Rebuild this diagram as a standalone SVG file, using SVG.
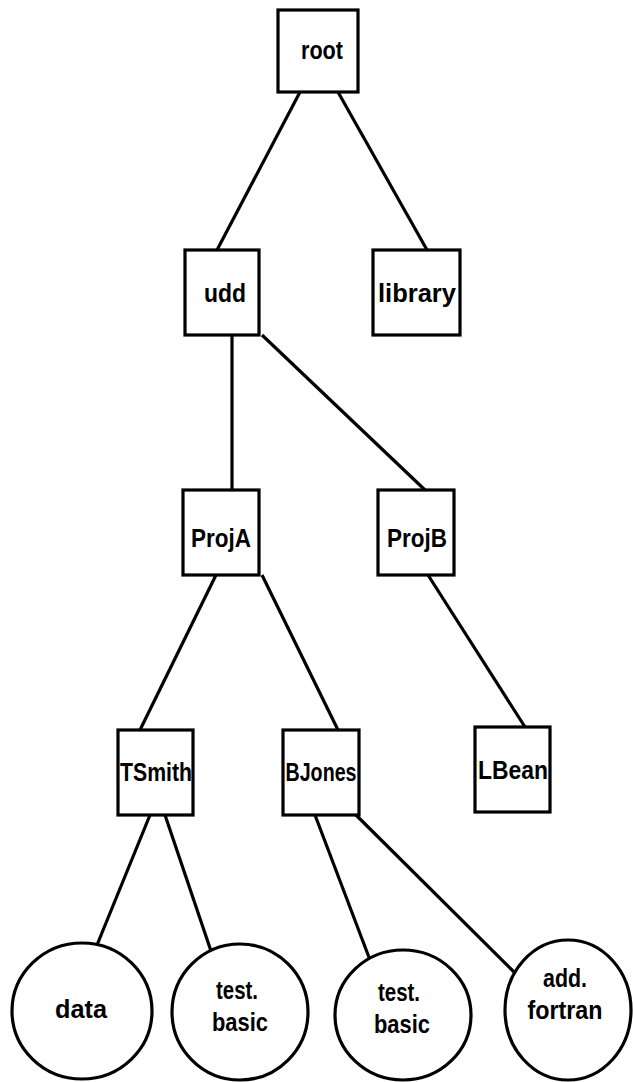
<svg xmlns="http://www.w3.org/2000/svg" width="633" height="1082" viewBox="0 0 633 1082">
<style>
.box{fill:#fff;stroke:#000;stroke-width:3.2}
.leaf{fill:#fff;stroke:#000;stroke-width:3.2}
.edge{stroke:#000;stroke-width:3.2;fill:none}
text{font-family:"Liberation Sans",Arial,sans-serif;font-weight:bold;font-size:26px;text-anchor:middle;fill:#000}
</style>
<rect width="633" height="1082" fill="#fff"/>
<g id="connectors">
<line class="edge" x1="300" y1="92" x2="217" y2="250"/>
<line class="edge" x1="338" y1="92" x2="427" y2="250"/>
<line class="edge" x1="232" y1="335" x2="232" y2="490"/>
<line class="edge" x1="262" y1="335" x2="425" y2="490"/>
<line class="edge" x1="216" y1="575" x2="140" y2="730"/>
<line class="edge" x1="262" y1="575" x2="338" y2="730"/>
<line class="edge" x1="428" y1="575" x2="525" y2="727"/>
<line class="edge" x1="150" y1="815" x2="97" y2="945"/>
<line class="edge" x1="165" y1="815" x2="213" y2="957"/>
<line class="edge" x1="315" y1="815" x2="370" y2="960"/>
<line class="edge" x1="356" y1="815" x2="520" y2="978"/>
</g>
<g id="root"><rect class="box" x="278" y="10" width="80" height="82"/><text x="322" y="59" textLength="42" lengthAdjust="spacingAndGlyphs">root</text></g>
<g id="udd"><rect class="box" x="185" y="250" width="74" height="85"/><text x="225" y="302" textLength="42" lengthAdjust="spacingAndGlyphs">udd</text></g>
<g id="library"><rect class="box" x="373" y="250" width="87" height="85"/><text x="417" y="302" textLength="78" lengthAdjust="spacingAndGlyphs">library</text></g>
<g id="ProjA"><rect class="box" x="183" y="490" width="76" height="85"/><text x="221" y="547" textLength="60" lengthAdjust="spacingAndGlyphs">ProjA</text></g>
<g id="ProjB"><rect class="box" x="378" y="490" width="76" height="85"/><text x="417" y="547" textLength="60" lengthAdjust="spacingAndGlyphs">ProjB</text></g>
<g id="TSmith"><rect class="box" x="118" y="730" width="75" height="85"/><text x="156" y="781" textLength="72" lengthAdjust="spacingAndGlyphs">TSmith</text></g>
<g id="BJones"><rect class="box" x="283" y="730" width="76" height="85"/><text x="321" y="781" textLength="71" lengthAdjust="spacingAndGlyphs">BJones</text></g>
<g id="LBean"><rect class="box" x="475" y="727" width="75" height="85"/><text x="513" y="779" textLength="70" lengthAdjust="spacingAndGlyphs">LBean</text></g>
<g id="data"><ellipse class="leaf" cx="82" cy="1011" rx="70" ry="68"/><text x="81" y="1018" textLength="52" lengthAdjust="spacingAndGlyphs">data</text></g>
<g id="test-basic-1"><ellipse class="leaf" cx="240" cy="1012" rx="68" ry="68"/><text x="237" y="999" textLength="42" lengthAdjust="spacingAndGlyphs">test.</text><text x="240" y="1031" textLength="56" lengthAdjust="spacingAndGlyphs">basic</text></g>
<g id="test-basic-2"><ellipse class="leaf" cx="403" cy="1015" rx="68" ry="65"/><text x="399" y="1001" textLength="42" lengthAdjust="spacingAndGlyphs">test.</text><text x="402" y="1033" textLength="56" lengthAdjust="spacingAndGlyphs">basic</text></g>
<g id="add-fortran"><ellipse class="leaf" cx="568" cy="1010" rx="63" ry="70"/><text x="565" y="987" textLength="44" lengthAdjust="spacingAndGlyphs">add.</text><text x="565" y="1019" textLength="75" lengthAdjust="spacingAndGlyphs">fortran</text></g>
</svg>
